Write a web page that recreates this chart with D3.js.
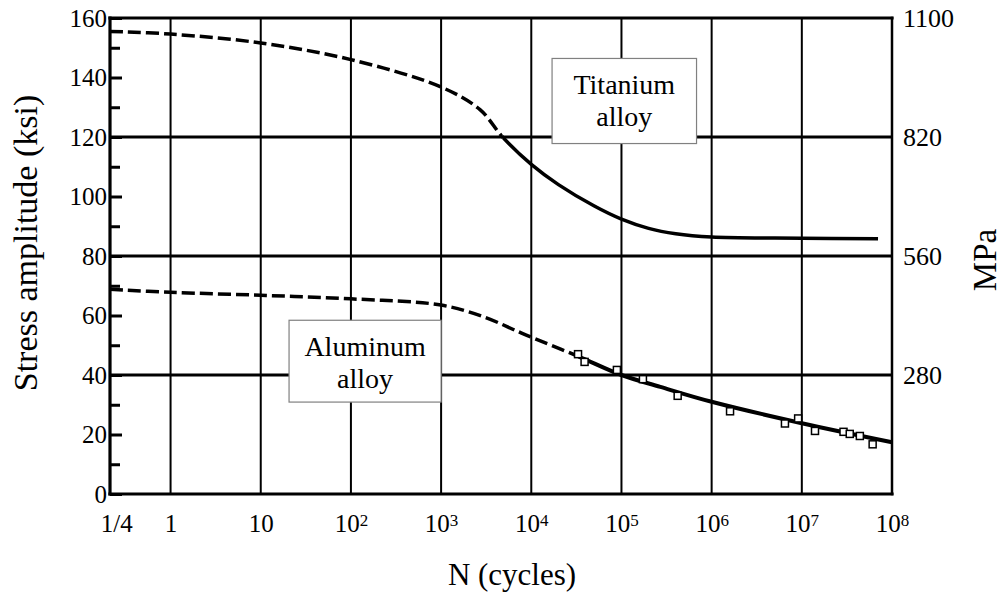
<!DOCTYPE html>
<html>
<head>
<meta charset="utf-8">
<script src="https://cdn.jsdelivr.net/npm/d3@7"></script>
<style>
  body { margin: 0; background: #fff; }
</style>
</head>
<body>
<div id="chart"></div>
<script>
// axis values
var xMin = 0.213, xMax = 1e8;
var xTicks = [0.25, 1, 10, 1e2, 1e3, 1e4, 1e5, 1e6, 1e7, 1e8];
var xTickBase = ["1/4", "1", "10", "10", "10", "10", "10", "10", "10", "10"];
var xTickExp = ["", "", "", "2", "3", "4", "5", "6", "7", "8"];
var yMajor = [0, 20, 40, 60, 80, 100, 120, 140, 160];
var yMinor = [10, 30, 50, 70, 90, 110, 130, 150];
var yGrid = [40, 80, 120];
var mpaKsi = [40, 80, 120, 160];
var mpaLabels = ["280", "560", "820", "1100"];

// titanium alloy S-N curve (ksi), dashed below tiDashEnd cycles
var tiN = [0.213, 1, 10, 100, 1000, 2700, 4800, 1e4, 2e4, 5e4, 1e5, 2e5, 4e5, 1e6, 1e7, 7e7];
var tiS = [155.5, 154.6, 151.6, 146, 136.8, 129.2, 120, 110.8, 104, 96.8, 92.4, 89.3, 87.5, 86.4, 86.0, 85.8];
var tiDashEnd = 4800;

// aluminum alloy S-N curve (ksi), dashed below alDashEnd cycles
var alN = [0.213, 1, 10, 100, 1000, 3000, 7000, 1e4, 3.3e4, 1e5, 2.7e5, 1e6, 1e7, 1e8];
var alS = [68.8, 67.8, 66.8, 65.6, 63.5, 59.5, 54.7, 52.7, 46.3, 40, 36, 31, 23.8, 17.4];
var alDashEnd = 3.3e4;

// aluminum test points
var alPtN = [3.3e4, 3.9e4, 8.9e4, 1.73e5, 4.2e5, 1.6e6, 6.5e6, 9.1e6, 1.4e7, 2.9e7, 3.4e7, 4.4e7, 6.1e7];
var alPtS = [47.0, 44.4, 41.7, 38.6, 33.0, 27.8, 23.7, 25.4, 21.2, 20.9, 20.2, 19.5, 16.7];

// label boxes (data units)
var boxes = [
  {lines: ["Titanium", "alloy"], n0: 1.7e4, n1: 6.8e5, s0: 146.4, s1: 117.8},
  {lines: ["Aluminum", "alloy"], n0: 20.6, n1: 1e3, s0: 58.4, s1: 30.9}
];

var serif = "'Liberation Serif'";

var svg = d3.select("#chart").append("svg")
  .attr("width", 1003)
  .attr("height", 595);

var x = d3.scaleLog().domain([xMin, xMax]).range([110, 892]);
var y = d3.scaleLinear().domain([0, 160]).range([494, 18]);

// vertical grid
svg.selectAll(".vgrid")
  .data(xTicks.slice(1, -1))
  .enter().append("line")
  .attr("class", "vgrid")
  .attr("x1", function(d) { return x(d); })
  .attr("x2", function(d) { return x(d); })
  .attr("y1", y(0))
  .attr("y2", y(160))
  .attr("stroke", "#000")
  .attr("stroke-width", 2);

// horizontal grid
svg.selectAll(".hgrid")
  .data(yGrid)
  .enter().append("line")
  .attr("class", "hgrid")
  .attr("x1", x(xMin))
  .attr("x2", x(xMax))
  .attr("y1", function(d) { return y(d); })
  .attr("y2", function(d) { return y(d); })
  .attr("stroke", "#000")
  .attr("stroke-width", 3);

// frame
var frame = [
  [x(xMin), y(160), x(xMax), y(160), 3.2],
  [x(xMin), y(0), x(xMax), y(0), 3.2],
  [x(xMin), y(0), x(xMin), y(160), 3.2],
  [x(xMax), y(0), x(xMax), y(160), 2.5]
];
svg.selectAll(".frame")
  .data(frame)
  .enter().append("line")
  .attr("x1", function(d) { return d[0]; })
  .attr("y1", function(d) { return d[1]; })
  .attr("x2", function(d) { return d[2]; })
  .attr("y2", function(d) { return d[3]; })
  .attr("stroke", "#000")
  .attr("stroke-width", function(d) { return d[4]; })
  .attr("stroke-linecap", "square");

// left axis
var yAxis = d3.axisLeft(y).tickValues(yMajor).tickSize(-12).tickPadding(3).tickFormat(d3.format("d"));
var gy = svg.append("g")
  .attr("transform", "translate(" + x(xMin) + ",0)")
  .call(yAxis);
gy.select(".domain").remove();
gy.selectAll("line").attr("stroke-width", 3);
gy.selectAll("text").style("font-family", serif).style("font-size", "25px").attr("fill", "#000");

var yAxisMinor = d3.axisLeft(y).tickValues(yMinor).tickSize(-10).tickFormat("");
var gym = svg.append("g")
  .attr("transform", "translate(" + x(xMin) + ",0)")
  .call(yAxisMinor);
gym.select(".domain").remove();
gym.selectAll("line").attr("stroke-width", 3);

// right axis (MPa)
var mpaAxis = d3.axisRight(y).tickValues(mpaKsi).tickSize(0).tickPadding(11)
  .tickFormat(function(d, i) { return mpaLabels[i]; });
var gr = svg.append("g")
  .attr("transform", "translate(" + x(xMax) + ",0)")
  .call(mpaAxis);
gr.select(".domain").remove();
gr.selectAll("text").style("font-family", serif).style("font-size", "26px").attr("fill", "#000");

// bottom axis
var xAxis = d3.axisBottom(x).tickValues(xTicks).tickSize(0).tickPadding(20).tickFormat("");
var gx = svg.append("g")
  .attr("transform", "translate(0," + y(0) + ")")
  .call(xAxis);
gx.select(".domain").remove();
gx.selectAll("text").each(function(d, i) {
  var t = d3.select(this).style("font-family", serif).style("font-size", "25px").attr("fill", "#000");
  t.append("tspan").text(xTickBase[i]);
  if (xTickExp[i]) {
    t.append("tspan").style("font-size", "17px").attr("dy", -6).text(xTickExp[i]);
  }
});

// label boxes
boxes.forEach(function(b) {
  var bx0 = x(b.n0), bx1 = x(b.n1), by0 = y(b.s0), by1 = y(b.s1);
  svg.append("rect")
    .attr("x", bx0).attr("y", by0)
    .attr("width", bx1 - bx0).attr("height", by1 - by0)
    .attr("fill", "#fff")
    .attr("stroke", "#808080")
    .attr("stroke-width", 1.2);
  svg.selectAll(null)
    .data(b.lines)
    .enter().append("text")
    .attr("x", (bx0 + bx1) / 2)
    .attr("y", function(d, i) { return by0 + 36 + i * 32; })
    .attr("text-anchor", "middle")
    .style("font-family", serif)
    .style("font-size", "28px")
    .text(function(d) { return d; });
});

// curves
var line = d3.line()
  .x(function(d) { return x(d[0]); })
  .y(function(d) { return y(d[1]); })
  .curve(d3.curveCatmullRom.alpha(0.5));

var defs = svg.append("defs");
function clip(id, x0, x1) {
  defs.append("clipPath").attr("id", id)
    .append("rect").attr("x", x0).attr("y", 0).attr("width", x1 - x0).attr("height", 595);
}
clip("tiDash", 0, x(tiDashEnd));
clip("tiSolid", x(tiDashEnd), 1003);
clip("alDash", 0, x(alDashEnd));
clip("alSolid", x(alDashEnd), 1003);

var ti = d3.zip(tiN, tiS);
var al = d3.zip(alN, alS);

function drawCurve(pts, clipId, dashed, w) {
  svg.append("path")
    .datum(pts)
    .attr("d", line)
    .attr("clip-path", "url(#" + clipId + ")")
    .attr("fill", "none")
    .attr("stroke", "#000")
    .attr("stroke-width", w)
    .attr("stroke-dasharray", dashed ? "13,5" : null);
}
drawCurve(ti, "tiDash", true, 3.5);
drawCurve(ti, "tiSolid", false, 3.5);
drawCurve(al, "alDash", true, 3.5);
drawCurve(al, "alSolid", false, 4);

// test points
svg.selectAll(".pt")
  .data(d3.zip(alPtN, alPtS))
  .enter().append("rect")
  .attr("class", "pt")
  .attr("x", function(d) { return x(d[0]) - 3.5; })
  .attr("y", function(d) { return y(d[1]) - 3.5; })
  .attr("width", 7)
  .attr("height", 7)
  .attr("fill", "#fff")
  .attr("stroke", "#000")
  .attr("stroke-width", 1.5);

// titles
svg.append("text")
  .attr("transform", "translate(37,243) rotate(-90)")
  .attr("text-anchor", "middle")
  .style("font-family", serif)
  .style("font-size", "34px")
  .text("Stress amplitude (ksi)");

svg.append("text")
  .attr("x", 512)
  .attr("y", 585)
  .attr("text-anchor", "middle")
  .style("font-family", serif)
  .style("font-size", "31px")
  .text("N (cycles)");

svg.append("text")
  .attr("transform", "translate(996,260) rotate(-90)")
  .attr("text-anchor", "middle")
  .style("font-family", serif)
  .style("font-size", "33px")
  .text("MPa");
</script>
</body>
</html>
